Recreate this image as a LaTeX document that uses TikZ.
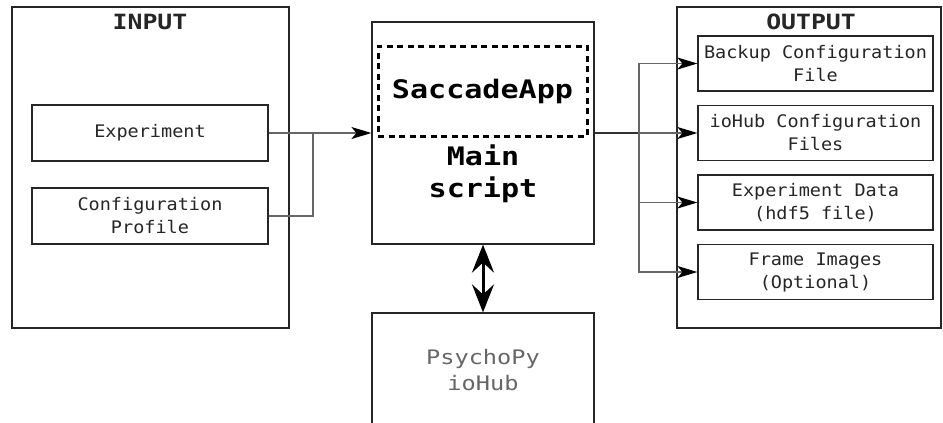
\documentclass[tikz,border=0pt]{standalone}
\usepackage{fontspec}
\newfontfamily\mono[FakeStretch=1.07]{DejaVu Sans Mono}
\newfontfamily\monowide[FakeStretch=1.18]{DejaVu Sans Mono}
\usetikzlibrary{arrows.meta}
\tikzset{
  box/.style={draw=black!85, line width=1.2pt, rectangle, inner sep=0pt, align=center},
  outer/.style={box, minimum width=277pt, minimum height=321pt},
  item/.style={box, minimum width=236pt, minimum height=56pt, font=\mono\fontsize{17.3}{23}\selectfont, text=black!85},
  oitem/.style={item, minimum width=235pt, minimum height=55pt},
  title/.style={font=\monowide\bfseries\fontsize{21}{24}\selectfont, text=black!85},
  big/.style={font=\monowide\bfseries\fontsize{25.5}{32}\selectfont},
  conn/.style={draw=black!60, line width=1.3pt},
  arr/.style={conn, -{Stealth[length=20pt,width=12pt,inset=5pt,color=black]}},
  dbl/.style={draw=black, line width=3pt, {Stealth[length=28pt,width=22pt,inset=10pt]}-{Stealth[length=28pt,width=22pt,inset=10pt]}},
}
\begin{document}
\begin{tikzpicture}[x=1pt,y=-1pt]
\useasboundingbox (0,0) rectangle (943,423);
\clip (0,0) rectangle (943,423);
\fill[white] (0,0) rectangle (943,423);
% input
\node[outer] (in) at (150.5,167.5) {};
\node[title] (intitle) at (150,22) {INPUT};
\node[item] (exp) at (150,133) {Experiment};
\node[item] (cfg) at (150,216) {Configuration\\Profile};
% main
\node[box, minimum width=222pt, minimum height=222pt] (main) at (483,133) {};
\node[box, draw=black, dash pattern=on 6pt off 4.5pt, line width=3pt, minimum width=209pt, minimum height=90pt, big] (sacc) at (482.5,91) {SaccadeApp};
\node[big, align=center] (mtext) at (483,174) {Main\\script};
% psychopy
\node[box, minimum width=222pt, minimum height=114pt, font=\monowide\fontsize{20}{26}\selectfont, text=black!60] (psy) at (483,370) {PsychoPy\\ioHub};
% output
\node[outer, minimum width=264pt] (out) at (809,167.5) {};
\node[title] (outtitle) at (811,22) {OUTPUT};
\node[oitem] (o1) at (815.5,63.5) {Backup Configuration\\File};
\node[oitem] (o2) at (815.5,133) {ioHub Configuration\\Files};
\node[oitem] (o3) at (815.5,202.5) {Experiment Data\\(hdf5 file)};
\node[oitem] (o4) at (815.5,272) {Frame Images\\(Optional)};
% connectors
\coordinate (j1) at (313,133);
\coordinate (j2) at (639,133);
\draw[arr] (exp.east) -- (main.west);
\draw[conn] (cfg.east) -| (j1);
\draw[conn, draw=black!80] (main.east) -- (j2);
\draw[arr] (j2) |- (o1.west);
\draw[arr] (j2) -- (o2.west);
\draw[arr] (j2) |- (o3.west);
\draw[arr] (j2) |- (o4.west);
\draw[dbl] (main.south) -- (psy.north);
\end{tikzpicture}
\end{document}
